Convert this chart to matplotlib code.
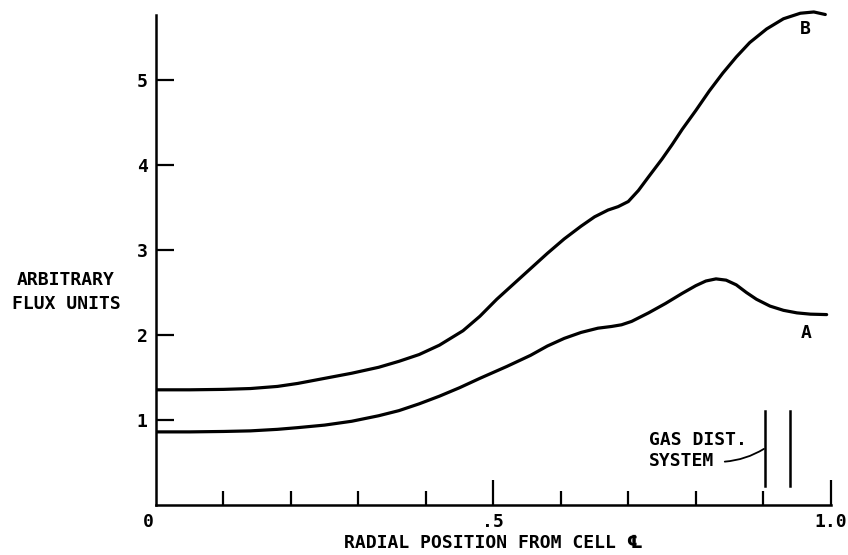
import matplotlib
matplotlib.use("Agg")
import matplotlib.pyplot as plt

# radial position (fraction of cell radius) and flux
x_b = [0.0, 0.05, 0.10, 0.14, 0.18, 0.21, 0.25, 0.29, 0.33, 0.36, 0.39,
       0.42, 0.455, 0.48, 0.505, 0.53, 0.555, 0.58, 0.605, 0.63, 0.65, 0.67,
       0.685, 0.70, 0.715, 0.73, 0.75, 0.765, 0.78, 0.80, 0.82, 0.84, 0.86,
       0.88, 0.905, 0.93, 0.955, 0.975, 0.992]
flux_b = [1.355, 1.355, 1.36, 1.37, 1.395, 1.43, 1.49, 1.55, 1.62, 1.69, 1.77,
          1.88, 2.05, 2.22, 2.42, 2.60, 2.78, 2.96, 3.13, 3.28, 3.39, 3.47,
          3.51, 3.57, 3.70, 3.86, 4.07, 4.24, 4.42, 4.64, 4.87, 5.08, 5.27,
          5.44, 5.60, 5.72, 5.785, 5.80, 5.77]

x_a = [0.0, 0.05, 0.10, 0.14, 0.18, 0.21, 0.25, 0.29, 0.33, 0.36, 0.39,
       0.42, 0.45, 0.48, 0.52, 0.555, 0.58, 0.605, 0.63, 0.655, 0.675, 0.69,
       0.705, 0.73, 0.755, 0.78, 0.80, 0.815, 0.83, 0.845, 0.86, 0.875,
       0.89, 0.91, 0.93, 0.95, 0.97, 0.994]
flux_a = [0.86, 0.86, 0.865, 0.872, 0.89, 0.91, 0.94, 0.985, 1.05, 1.11, 1.19,
          1.28, 1.38, 1.49, 1.63, 1.76, 1.87, 1.96, 2.03, 2.08, 2.10, 2.12,
          2.16, 2.26, 2.37, 2.49, 2.58, 2.635, 2.66, 2.645, 2.59, 2.50,
          2.42, 2.34, 2.29, 2.26, 2.245, 2.24]

# gas distribution system walls
gas_x = [0.902, 0.940]
gas_y = (0.22, 1.10)

FONT = ["DejaVu Sans Mono", "DejaVu Sans"]
plt.rcParams["font.family"] = FONT
plt.rcParams["font.weight"] = "bold"
FS = 13

fig = plt.figure(figsize=(8.48, 5.55), dpi=100)
ax = fig.add_axes([0.184, 0.0901, 0.9796 - 0.184, 0.896])

ax.plot(x_b, flux_b, color="black", lw=2.3, solid_capstyle="round",
        solid_joinstyle="round")
ax.plot(x_a, flux_a, color="black", lw=2.3, solid_capstyle="round",
        solid_joinstyle="round")

for gx in gas_x:
    ax.plot([gx, gx], gas_y, color="black", lw=1.8)

ax.set_xlim(0, 1.0)
ax.set_ylim(0, 5.85)

for side in ("top", "right"):
    ax.spines[side].set_visible(False)
for side in ("left", "bottom"):
    ax.spines[side].set_linewidth(1.8)
ax.spines["left"].set_bounds(0, 5.77)

# x ticks: long at .5 and 1.0, short at the other tenths
ax.set_xticks([0.5, 1.0])
ax.set_xticklabels([".5", "1.0"])
ax.set_xticks([0.1, 0.2, 0.3, 0.4, 0.6, 0.7, 0.8, 0.9], minor=True)
ax.tick_params(axis="x", which="major", direction="in", length=18, width=1.6,
               pad=6, labelsize=FS)
ax.tick_params(axis="x", which="minor", direction="in", length=10, width=1.6)

ax.set_yticks([1, 2, 3, 4, 5])
ax.set_yticklabels(["1", "2", "3", "4", "5"])
ax.tick_params(axis="y", direction="in", length=13, width=1.6, pad=6,
               labelsize=FS)

ax.text(-0.012, -0.1, "0", ha="center", va="top", fontsize=FS)

ax.set_xlabel("RADIAL POSITION FROM CELL \u2104", fontsize=FS,
              fontweight="bold", labelpad=2)
fig.text(66 / 848, 1 - 292 / 555, "ARBITRARY\nFLUX UNITS", ha="center",
         va="center", fontsize=FS, fontweight="bold", linespacing=1.4)

ax.text(0.963, 5.6, "B", ha="center", va="center", fontsize=FS)
ax.text(0.964, 2.02, "A", ha="center", va="center", fontsize=FS)

ax.text(0.731, 0.765, "GAS DIST.", ha="left", va="center", fontsize=FS)
ax.text(0.731, 0.52, "SYSTEM", ha="left", va="center", fontsize=FS)
ax.annotate("", xy=(0.901, 0.66), xytext=(0.843, 0.51),
            arrowprops=dict(arrowstyle="-", color="black", lw=1.3,
                            connectionstyle="arc3,rad=0.12",
                            shrinkA=0, shrinkB=0))

fig.savefig("out.png", dpi=100)
